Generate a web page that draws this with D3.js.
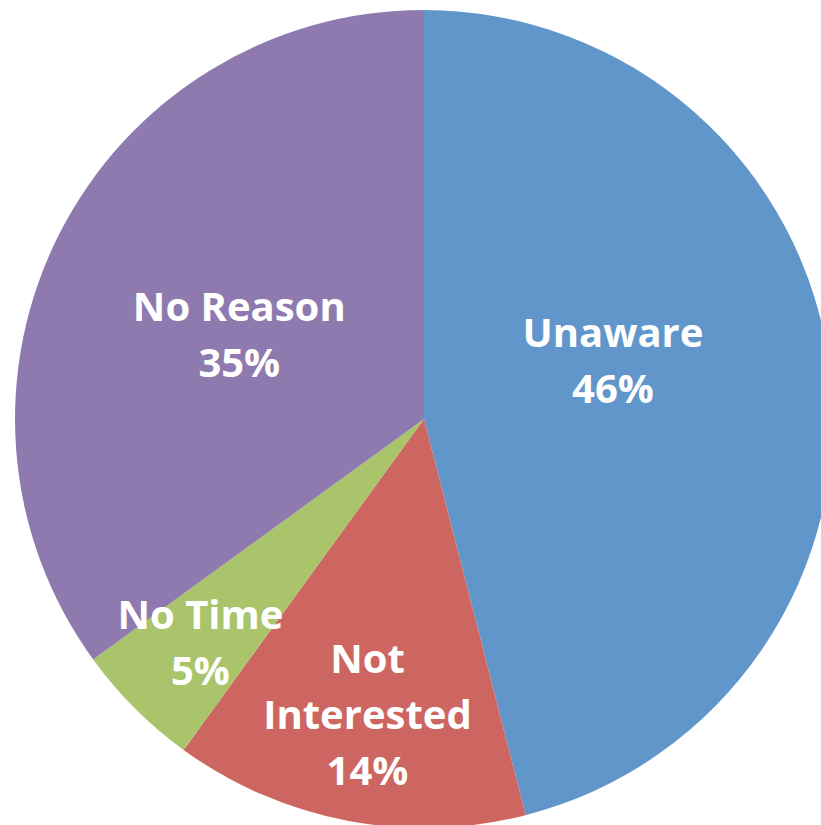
<!DOCTYPE html>
<html>
<head>
<meta charset="utf-8">
<script src="https://cdn.jsdelivr.net/npm/d3@7"></script>
<style>
  html, body { margin: 0; padding: 0; background: #ffffff; }
  svg { display: block; }
</style>
</head>
<body>
<svg id="chart" width="821" height="825"></svg>
<script>
// Reasons for not participating (share of respondents, %)
const categories = ["Unaware", "Not Interested", "No Time", "No Reason"];
const values = [46, 14, 5, 35];
const labelLines = [["Unaware"], ["Not", "Interested"], ["No Time"], ["No Reason"]];
const colors = ["#6096C9", "#CD6660", "#A9C46B", "#8F7AB0"];

const width = 821, height = 825;
const cx = 424, cy = 419, radius = 409;

// Label placement: radial fraction of the radius and angular nudge (degrees)
const labelPlacement = {
  "Unaware":        { r: 0.483, nudge: -9.8 },
  "Not Interested": { r: 0.738, nudge: 0 },
  "No Time":        { r: 0.773, nudge: 0 },
  "No Reason":      { r: 0.496, nudge: -2.6 }
};

const fontSize = 40, lineHeight = 56, capHeight = 28;

const svg = d3.select("#chart");
const g = svg.append("g").attr("transform", `translate(${cx},${cy})`);

const data = categories.map((c, i) => ({ category: c, value: values[i], lines: labelLines[i], color: colors[i] }));

const pie = d3.pie().value(d => d.value).sort(null);
const arc = d3.arc().innerRadius(0).outerRadius(radius);
const arcs = pie(data);

g.selectAll("path.slice")
  .data(arcs)
  .join("path")
  .attr("class", "slice")
  .attr("d", arc)
  .attr("fill", d => d.data.color);

const labels = g.selectAll("text.label")
  .data(arcs)
  .join("text")
  .attr("class", "label")
  .attr("font-family", "'Open Sans', sans-serif")
  .attr("font-weight", "bold")
  .attr("font-size", fontSize)
  .attr("fill", "#ffffff")
  .attr("text-anchor", "middle")
  .each(function(d) {
    const p = labelPlacement[d.data.category];
    const mid = (d.startAngle + d.endAngle) / 2 + p.nudge * Math.PI / 180;
    const x = Math.sin(mid) * radius * p.r;
    const y = -Math.cos(mid) * radius * p.r;
    const lines = d.data.lines.concat([d.data.value + "%"]);
    const n = lines.length;
    // first baseline so the block (cap top to last baseline) is centred on (x, y)
    const blockH = capHeight + (n - 1) * lineHeight;
    const b1 = y - blockH / 2 + capHeight;
    const t = d3.select(this);
    lines.forEach((ln, i) => {
      t.append("tspan").attr("x", x).attr("y", b1 + i * lineHeight).text(ln);
    });
  });
</script>
</body>
</html>
